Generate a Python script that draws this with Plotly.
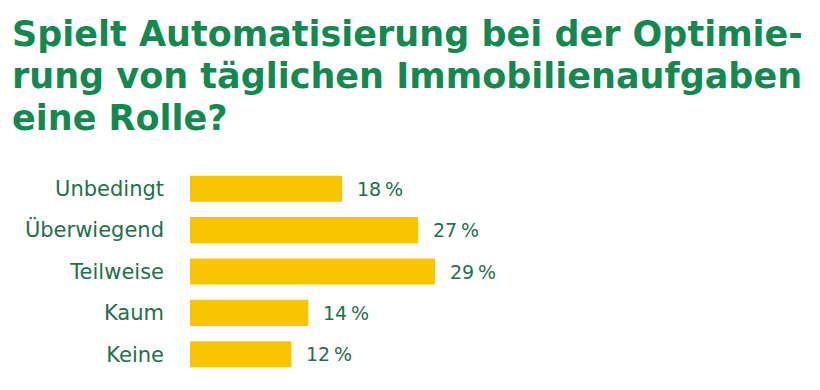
import plotly.graph_objects as go

categories = ["Unbedingt", "Überwiegend", "Teilweise", "Kaum", "Keine"]
values = [18, 27, 29, 14, 12]
value_labels = ["18\u2009%", "27\u2009%", "29\u2009%", "14\u2009%", "12\u2009%"]

title_lines = ["Spielt Automatisierung bei der Optimie-",
               "rung von täglichen Immobilienaufgaben",
               "eine Rolle?"]

BAR = "#F8C500"
TITLE_GREEN = "#13894F"
TEXT_GREEN = "#22704A"

# page has an 8px body margin, so the figure is sized/offset accordingly
W, H = 812, 382
L, R, T, B = 182, 292, 160, 15
pw, ph = W - L - R, H - T - B

fig = go.Figure()
fig.add_trace(go.Bar(
    x=values, y=categories, orientation="h",
    marker=dict(color=BAR, line=dict(width=0)),
    hoverinfo="skip",
))

for v, c, t in zip(values, categories, value_labels):
    fig.add_annotation(x=v, y=c, text=t, showarrow=False, xanchor="left",
                       xshift=13, font=dict(family="DejaVu Sans", size=19, color=TEXT_GREEN))

for i, line in enumerate(title_lines):
    top = 4 + i * 42
    fig.add_annotation(text=line, xref="paper", yref="paper",
                       x=(2 - L) / pw, y=1 + (T - top) / ph, xanchor="left", yanchor="top",
                       align="left", showarrow=False,
                       font=dict(family="DejaVu Sans", size=35, color=TITLE_GREEN, weight="bold"))

fig.update_layout(
    width=W, height=H,
    margin=dict(l=L, r=R, t=T, b=B, autoexpand=False),
    paper_bgcolor="white", plot_bgcolor="white",
    bargap=0.37,
    showlegend=False,
    xaxis=dict(range=[0, 40], visible=False, fixedrange=True),
    yaxis=dict(autorange="reversed", showgrid=False, showline=False, zeroline=False,
               ticks="", ticklabelstandoff=25, automargin=False,
               tickfont=dict(family="DejaVu Sans", size=21, color=TEXT_GREEN)),
)

fig.write_html("out.html")
